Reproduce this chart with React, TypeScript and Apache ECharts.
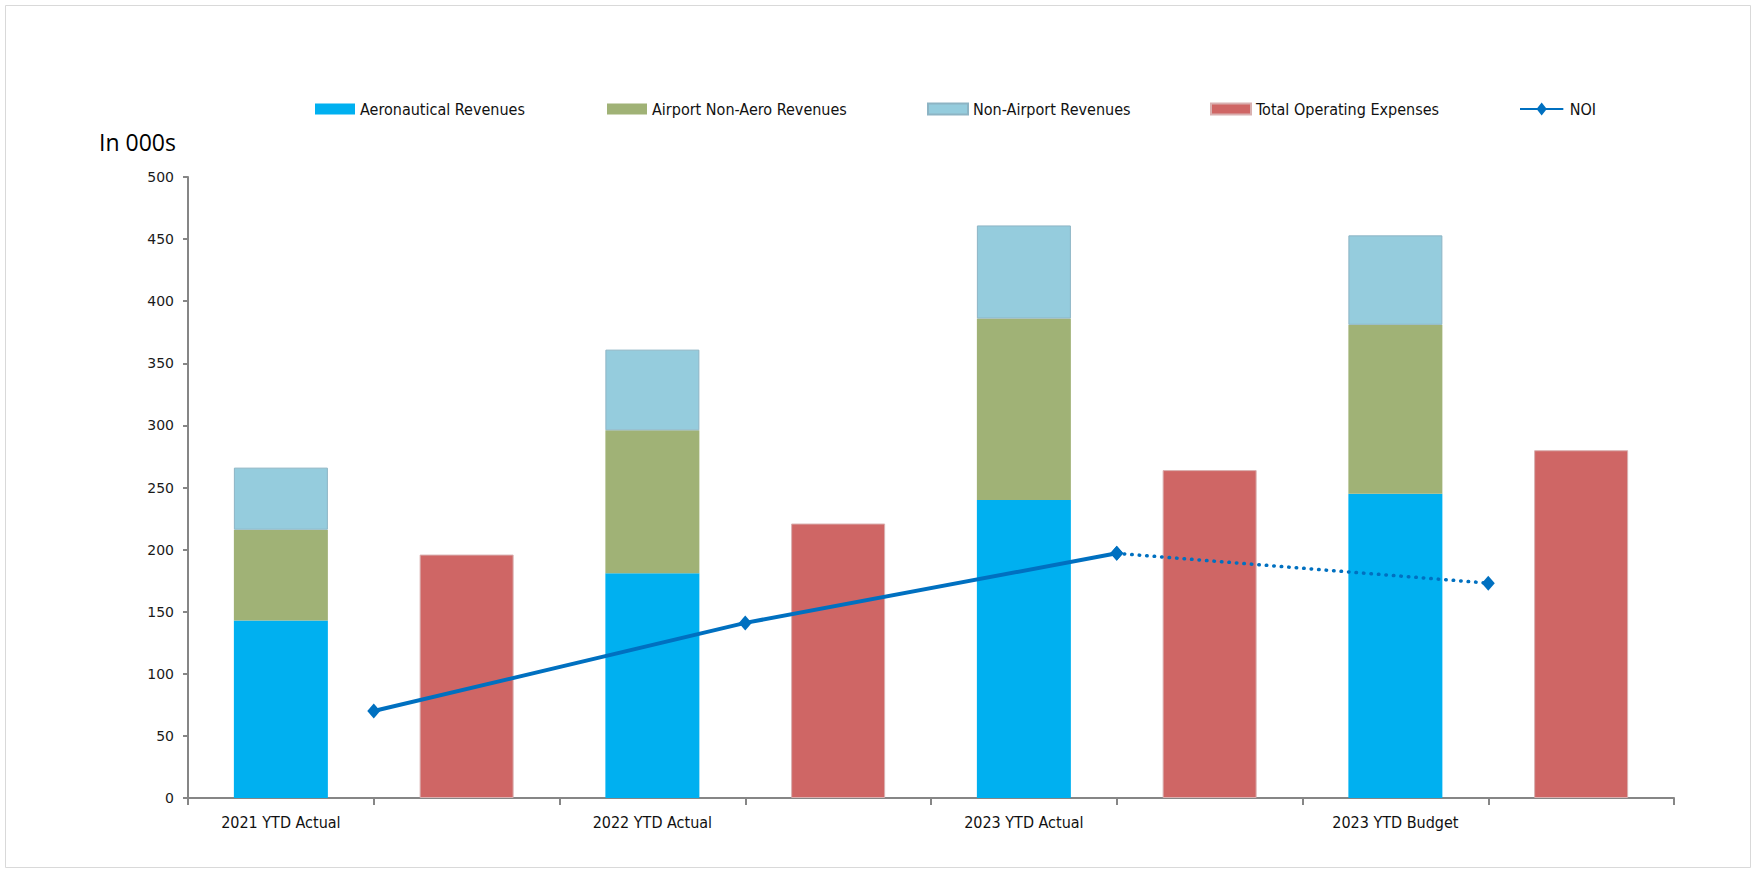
import React, { useEffect, useRef } from "react";
import * as echarts from "echarts";

const categories = ["2021 YTD Actual", "", "2022 YTD Actual", "", "2023 YTD Actual", "", "2023 YTD Budget", ""];
const aeronautical = [143, 181, 240, 245];
const airportNonAero = [73, 115, 146, 136];
const nonAirport = [50, 65, 75, 72];
const operatingExpenses = [196, 221, 264, 280];
const noiActual = [70, 141, 197];
const noiBudget = [197, 173];
const noiActualX = [1, 3, 5];
const noiBudgetX = [5, 7];
const yTicks = { min: 0, max: 500, interval: 50 };

const revSlots = (arr: number[]) => {
  const out: (number | string)[] = [];
  arr.forEach((v) => { out.push(v); out.push("-"); });
  return out;
};
const expSlots = (arr: number[]) => {
  const out: (number | string)[] = [];
  arr.forEach((v) => { out.push("-"); out.push(v); });
  return out;
};

const narrow = "'Liberation Sans Narrow', 'DejaVu Sans Condensed', 'Roboto', sans-serif";

export default function App() {
  const ref = useRef<HTMLDivElement>(null);
  useEffect(() => {
    if (!ref.current) return;
    const chart = echarts.init(ref.current, undefined, { renderer: "svg" });
    const legendBase = {
      top: 96,
      icon: "rect",
      itemWidth: 40,
      itemHeight: 11,
      itemGap: 5,
      textStyle: { fontFamily: narrow, fontSize: 16, color: "#111" },
    };
    chart.setOption({
      animation: false,
      backgroundColor: "#fff",
      graphic: [
        {
          type: "rect",
          shape: { x: 5.5, y: 5.5, width: 1745, height: 862 },
          style: { fill: "none", stroke: "#D9D9D9", lineWidth: 1 },
        },
        {
          type: "text",
          left: 99,
          top: 130,
          style: { text: "In 000s", font: "23px 'Open Sans', 'Noto Sans', sans-serif", fill: "#000" },
        },
      ],
      legend: [
        { ...legendBase, left: 310, data: ["Aeronautical Revenues"] },
        { ...legendBase, left: 602, data: ["Airport Non-Aero Revenues"] },
        { ...legendBase, left: 922, data: ["Non-Airport Revenues"] },
        { ...legendBase, left: 1205, data: ["Total Operating Expenses"] },
        {
          ...legendBase,
          left: 1515,
          data: [{ name: "NOI", icon: "path://M0,5 L16,5 L20,0 L24,5 L40,5 L40,7 L24,7 L20,12 L16,7 L0,7 Z" }],
          itemWidth: 46,
          itemHeight: 13,
        },
      ],
      grid: { left: 188, right: 83, top: 177, bottom: 75, containLabel: false },
      xAxis: [
        {
          type: "category",
          data: categories,
          axisLine: { lineStyle: { color: "#868686", width: 2 } },
          axisTick: { show: true, interval: 0, length: 7, lineStyle: { color: "#868686", width: 2 } },
          axisLabel: { interval: 0, margin: 16, fontFamily: narrow, fontSize: 16, color: "#111" },
        },
        { type: "value", min: 0, max: 8, show: false },
      ],
      yAxis: {
        type: "value",
        min: yTicks.min,
        max: yTicks.max,
        interval: yTicks.interval,
        splitLine: { show: false },
        axisLine: { show: true, lineStyle: { color: "#868686", width: 2 } },
        axisTick: { show: true, length: 5, lineStyle: { color: "#868686", width: 2 } },
        axisLabel: { margin: 14, fontFamily: "'DejaVu Sans', sans-serif", fontSize: 14, color: "#1a1a1a" },
      },
      series: [
        {
          name: "Aeronautical Revenues",
          type: "bar",
          stack: "a",
          barWidth: 94,
          data: revSlots(aeronautical),
          itemStyle: { color: "#00B0F0" },
        },
        {
          name: "Airport Non-Aero Revenues",
          type: "bar",
          stack: "a",
          barWidth: 94,
          data: revSlots(airportNonAero),
          itemStyle: { color: "#A0B276" },
        },
        {
          name: "Non-Airport Revenues",
          type: "bar",
          stack: "a",
          barWidth: 94,
          data: revSlots(nonAirport),
          itemStyle: { color: "#95CCDD", borderColor: "#8DB4C4", borderWidth: 1 },
        },
        {
          name: "Total Operating Expenses",
          type: "bar",
          stack: "a",
          barWidth: 94,
          data: expSlots(operatingExpenses),
          itemStyle: { color: "#CF6665", borderColor: "#D9B0B0", borderWidth: 1 },
        },
        {
          name: "NOI",
          type: "line",
          xAxisIndex: 1,
          data: noiActual.map((v, i) => [noiActualX[i], v]),
          symbol: "diamond",
          symbolSize: [13, 15],
          lineStyle: { color: "#0070C0", width: 4 },
          itemStyle: { color: "#0070C0" },
          z: 5,
        },
        {
          name: "NOI Budget",
          type: "line",
          xAxisIndex: 1,
          data: noiBudget.map((v, i) => [noiBudgetX[i], v]),
          symbol: "diamond",
          symbolSize: [13, 15],
          lineStyle: { color: "#0070C0", width: 3.5, type: [0.5, 7], cap: "round" },
          itemStyle: { color: "#0070C0" },
          z: 5,
        },
      ],
    });
    return () => chart.dispose();
  }, []);
  return <div ref={ref} style={{ position: "fixed", left: 0, top: 0, width: 1757, height: 873 }} />;
}
